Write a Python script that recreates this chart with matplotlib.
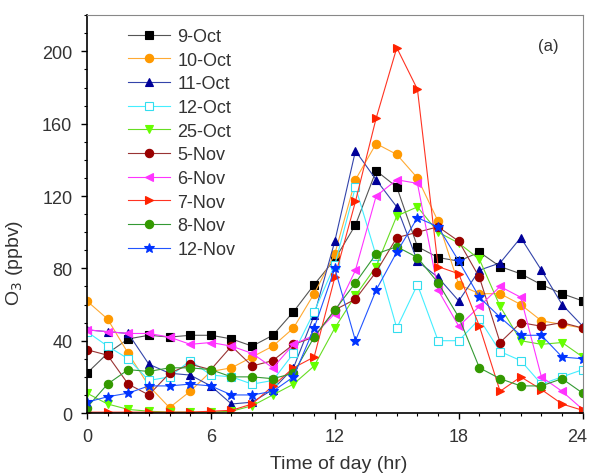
import matplotlib.pyplot as plt
import matplotlib.transforms as mtransforms
from matplotlib.ticker import MultipleLocator

plt.rcParams['font.family'] = ['Liberation Sans', 'DejaVu Sans']

# Hour of day
hours = list(range(25))

# Hourly O3 (ppbv) for each day
oct09 = [22, 33, 41, 43, 42, 43, 43, 41, 37, 43, 56, 71, 85, 104, 134, 125, 92, 86, 84, 89, 81, 77, 71, 66, 62]
oct10 = [62, 52, 33, 15, 3, 12, 23, 25, 31, 37, 47, 66, 88, 129, 149, 143, 130, 106, 71, 66, 66, 60, 51, 49, 47]
oct11 = [46, 45, 44, 27, 22, 21, 15, 5, 6, 13, 25, 54, 95, 145, 129, 114, 84, 75, 62, 79, 83, 97, 79, 60, 48]
oct12 = [45, 37, 30, 18, 20, 29, 21, 20, 16, 18, 33, 56, 82, 125, 87, 47, 71, 40, 40, 52, 34, 29, 16, 20, 24]
oct25 = [11, 5, 2, 1, 0.5, 0.5, 0.5, 1, 4, 10, 16, 26, 47, 65, 81, 109, 114, 100, 94, 85, 59, 40, 38, 39, 31]
nov05 = [35, 32, 16, 10, 22, 27, 24, 37, 26, 29, 38, 42, 57, 63, 78, 97, 100, 103, 95, 75, 39, 50, 48, 50, 47]
nov06 = [46, 45, 44, 44, 42, 38, 39, 37, 33, 25, 38, 43, 55, 79, 120, 129, 127, 68, 48, 59, 70, 64, 20, 12, 2]
nov07 = [0.5, 0.5, 0.5, 0.5, 0.5, 0.5, 1, 1.5, 5, 15, 25, 31, 75, 117, 163, 202, 179, 81, 77, 48, 12, 20, 13, 5, 1.5]
nov08 = [3, 16, 24, 23, 25, 25, 24, 20, 20, 19, 22, 42, 57, 72, 88, 92, 86, 72, 53, 25, 19, 15, 15, 19, 11]
nov12 = [6, 9, 11, 15, 15, 16, 15, 10, 10, 12, 20, 47, 80, 40, 68, 89, 108, 103, 84, 64, 53, 43, 43, 31, 30]

series = [
    ('9-Oct', oct09, '#000000', '#555555', 's', '#000000'),
    ('10-Oct', oct10, '#FF9900', '#FFAA33', 'o', '#FF9900'),
    ('11-Oct', oct11, '#000099', '#3344AA', '^', '#000099'),
    ('12-Oct', oct12, '#33DDEE', '#44EEFF', 's', 'white'),
    ('25-Oct', oct25, '#66FF00', '#66DD22', 'v', '#66FF00'),
    ('5-Nov', nov05, '#990000', '#993333', 'o', '#990000'),
    ('6-Nov', nov06, '#FF33FF', '#FF33FF', '<', '#FF33FF'),
    ('7-Nov', nov07, '#FF2200', '#FF3322', '>', '#FF2200'),
    ('8-Nov', nov08, '#339900', '#339933', 'o', '#339900'),
    ('12-Nov', nov12, '#0033FF', '#2255FF', '*', '#0033FF'),
]

fig = plt.figure(figsize=(5.91, 4.77), dpi=100)
ax = fig.add_axes([0.147, 0.132, 0.839, 0.834])

for label, values, mcolor, lcolor, marker, face in series:
    size = 7.5 if marker == '*' else 6
    ax.plot(hours, values, color=lcolor, linewidth=0.8, marker=marker,
            markersize=size, markerfacecolor=face, markeredgecolor=mcolor,
            markeredgewidth=0.8, label=label)

ax.set_xlim(0, 24)
ax.set_ylim(0, 220)
ax.xaxis.set_major_locator(MultipleLocator(6))
ax.xaxis.set_minor_locator(MultipleLocator(1))
ax.set_yticks([0, 40, 80, 120, 160, 200])
ax.yaxis.set_minor_locator(MultipleLocator(10))
ax.tick_params(axis='both', which='major', direction='out', length=4, width=1,
               labelsize=13, labelcolor='#333333', top=False, right=False)
ax.tick_params(axis='x', which='major', pad=7)
ax.tick_params(axis='y', which='major', pad=6.5)
ax.tick_params(axis='both', which='minor', direction='out', length=2.5, width=0.8,
               top=False, right=False)

for side in ['left', 'bottom']:
    ax.spines[side].set_linewidth(1.2)
for side in ['top', 'right']:
    ax.spines[side].set_color('#888888')
    ax.spines[side].set_linewidth(0.8)

ax.set_xlabel('Time of day (hr)', fontsize=14, color='#333333')
ax.xaxis.set_label_coords(0.508, -0.105)
ax.set_ylabel('O$_3$ (ppbv)', fontsize=14, color='#333333')
ax.yaxis.set_label_coords(-0.125, 0.38)

ax.text(0.93, 0.925, '(a)', transform=ax.transAxes, fontsize=12, color='#333333',
        ha='center', va='center')

ax.legend(loc='upper left', bbox_to_anchor=(0.083, 0.968), frameon=False,
          fontsize=13, handlelength=2.33, handletextpad=0.4, labelspacing=0.37,
          borderpad=0, borderaxespad=0, labelcolor='#333333')

# nudge the "24" label so it stays inside the figure
fig.canvas.draw()
for tick in ax.xaxis.get_major_ticks():
    if tick.label1.get_text() == '24':
        tick.label1.set_transform(tick.label1.get_transform() +
                                  mtransforms.ScaledTranslation(-4 / 72, 0, fig.dpi_scale_trans))

plt.savefig('out.png', dpi=100)
